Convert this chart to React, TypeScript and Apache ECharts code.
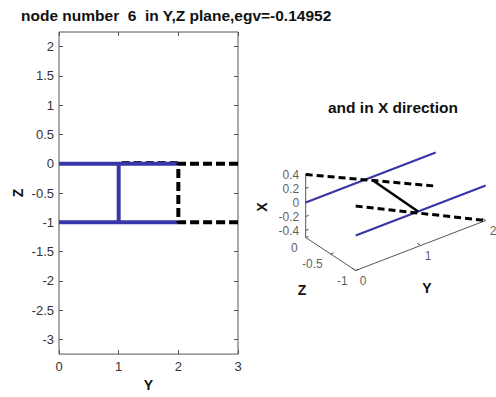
import React, { useEffect, useRef } from "react";
import * as echarts from "echarts";

const FONT = '"Liberation Sans", Arial, Helvetica, sans-serif';
const BLUE = "#3936a8";

// ---- left plot (Y,Z plane) ----
const yTickValues = [0, 1, 2, 3];
const zTickValues = [-3, -2.5, -2, -1.5, -1, -0.5, 0, 0.5, 1, 1.5, 2];
const memberTop: number[][] = [[0, 0], [2, 0]];
const memberBottom: number[][] = [[0, -1], [2, -1]];
const memberVertical: number[][] = [[1, 0], [1, -1]];
const deformedHidden: number[][] = [[1.05, 0.02], [2, 0.02]];
const deformedShape: number[][] = [[3, 0], [2, 0], [2, -1], [3, -1]];

// ---- right plot (3D view), points as [X, Y, Z] ----
const blueLine1: number[][] = [[0, 0, 0], [0, 2, 0]];
const blueLine2: number[][] = [[0, 0, -1], [0, 2, -1]];
const dashedLine1: number[][] = [[0.4, 0, 0], [-0.48, 2, 0]];
const dashedLine2: number[][] = [[0.42, 0, -1], [-0.5, 2, -1]];
const solidLink: number[][] = [[-0.05, 1.03, 0], [0, 0.96, -1]];
const xAxis3D: number[][] = [[-0.5, 0, 0], [0.4, 0, 0]];
const zAxis3D: number[][] = [[-0.5, 0, 0], [-0.5, 0, -1]];
const yAxis3D: number[][] = [[-0.5, 0, -1], [-0.5, 2, -1]];
const xTicks3D = [-0.4, -0.2, 0, 0.2, 0.4];
const yTicks3D = [0, 1, 2];
const zTicks3D = [0, -0.5, -1];

// oblique projection of (X, Y, Z) to the plane
const project = (p: number[]) => [65 * p[1] - 50 * p[2], 25 * p[1] + 33 * p[2] + 70 * p[0]];

export default function App() {
  const ref = useRef<HTMLDivElement>(null);
  useEffect(() => {
    if (!ref.current) return;
    const chart = echarts.init(ref.current, undefined, { renderer: "svg" });

    const axisLineStyle = { color: "#555", width: 1 };
    const labelStyle = { color: "#333", fontSize: 13, fontFamily: FONT };

    const line3D = (pts: number[][], color: string, width: number, type: any = "solid", z = 2) => ({
      type: "line",
      xAxisIndex: 2,
      yAxisIndex: 2,
      data: pts.map(project),
      symbol: "none",
      clip: false,
      z,
      lineStyle: { color, width, type },
    });

    const tickSegs: any[] = [];
    xTicks3D.forEach((x) => tickSegs.push(line3D([[x, 0, 0], [x, 0.045, 0]], "#555", 1)));
    yTicks3D.forEach((y) => tickSegs.push(line3D([[-0.5, y, -1], [-0.5, y, -0.93]], "#555", 1)));
    zTicks3D.forEach((zz) => tickSegs.push(line3D([[-0.5, 0, zz], [-0.5, 0.045, zz]], "#555", 1)));

    const tickLabels = (pts: number[][], names: string[], label: any) => ({
      type: "scatter",
      xAxisIndex: 2,
      yAxisIndex: 2,
      symbolSize: 1,
      clip: false,
      itemStyle: { color: "rgba(0,0,0,0)" },
      data: pts.map((p, i) => ({ value: project(p), name: names[i] })),
      label: {
        show: true,
        formatter: "{b}",
        color: "#333",
        fontSize: 12,
        fontFamily: FONT,
        ...label,
      },
    });

    const tick = { show: true, inside: true, length: 4, lineStyle: axisLineStyle };

    const option: any = {
      animation: false,
      backgroundColor: "#fff",
      grid: [
        { left: 59, top: 32, width: 179, height: 328, show: true, borderColor: "#555", borderWidth: 1, backgroundColor: "transparent" },
        { left: 260, top: 120, width: 236, height: 200 },
      ],
      xAxis: [
        {
          type: "value", gridIndex: 0, min: 0, max: 3, position: "bottom",
          axisLine: { show: false, onZero: false },
          axisTick: { ...tick, customValues: yTickValues },
          axisLabel: { ...labelStyle, margin: 6, customValues: yTickValues },
          splitLine: { show: false },
          name: "Y", nameLocation: "middle", nameGap: 22,
          nameTextStyle: { color: "#111", fontSize: 14, fontWeight: "bold", fontFamily: FONT },
        },
        {
          type: "value", gridIndex: 0, min: 0, max: 3, position: "top",
          axisLine: { show: false, onZero: false },
          axisTick: { ...tick, customValues: yTickValues },
          axisLabel: { show: false },
          splitLine: { show: false },
        },
        { type: "value", gridIndex: 1, min: -45.7, max: 190.3, show: false, splitLine: { show: false } },
      ],
      yAxis: [
        {
          type: "value", gridIndex: 0, min: -3.25, max: 2.25, position: "left",
          axisLine: { show: false, onZero: false },
          axisTick: { ...tick, customValues: zTickValues },
          axisLabel: { ...labelStyle, margin: 5, customValues: zTickValues },
          splitLine: { show: false },
          name: "Z", nameLocation: "middle", nameGap: 34, nameRotate: 90,
          nameTextStyle: { color: "#111", fontSize: 14, fontWeight: "bold", fontFamily: FONT },
        },
        {
          type: "value", gridIndex: 0, min: -3.25, max: 2.25, position: "right",
          axisLine: { show: false, onZero: false },
          axisTick: { ...tick, customValues: zTickValues },
          axisLabel: { show: false },
          splitLine: { show: false },
        },
        { type: "value", gridIndex: 1, min: -117.5, max: 82.5, show: false, splitLine: { show: false } },
      ],
      graphic: [
        {
          type: "text", x: 21, y: 15,
          style: { text: "node number  6  in Y,Z plane,egv=-0.14952", fill: "#111", font: `bold 15.5px ${FONT}`, textVerticalAlign: "middle" },
        },
        {
          type: "text", x: 393, y: 107,
          style: { text: "and in X direction", fill: "#111", font: `bold 15.5px ${FONT}`, textAlign: "center", textVerticalAlign: "middle" },
        },
        {
          type: "text", x: 262, y: 207, rotation: Math.PI / 2,
          style: { text: "X", fill: "#111", font: `bold 14px ${FONT}`, textAlign: "center", textVerticalAlign: "middle" },
        },
        {
          type: "text", x: 302, y: 290,
          style: { text: "Z", fill: "#111", font: `bold 14px ${FONT}`, textAlign: "center", textVerticalAlign: "middle" },
        },
        {
          type: "text", x: 427, y: 288,
          style: { text: "Y", fill: "#111", font: `bold 14px ${FONT}`, textAlign: "center", textVerticalAlign: "middle" },
        },
      ],
      series: [
        { type: "line", data: deformedHidden, symbol: "none", lineStyle: { color: "#222", width: 3, type: [8, 4] }, z: 1 },
        { type: "line", data: memberTop, symbol: "none", lineStyle: { color: BLUE, width: 4 }, z: 2 },
        { type: "line", data: memberBottom, symbol: "none", lineStyle: { color: BLUE, width: 4 }, z: 2 },
        { type: "line", data: memberVertical, symbol: "none", lineStyle: { color: BLUE, width: 4 }, z: 2 },
        { type: "line", data: deformedShape, symbol: "none", lineStyle: { color: "#000", width: 4, type: [9, 4] }, z: 3 },

        line3D(xAxis3D, "#555", 1),
        line3D(zAxis3D, "#555", 1),
        line3D(yAxis3D, "#555", 1),
        ...tickSegs,
        line3D(blueLine1, BLUE, 2.2),
        line3D(blueLine2, BLUE, 2.2),
        line3D(dashedLine1, "#000", 3, [7, 4], 3),
        line3D(dashedLine2, "#000", 3, [7, 4], 3),
        line3D(solidLink, "#000", 2.5, "solid", 3),

        tickLabels(xTicks3D.map((x) => [x, 0, 0]), xTicks3D.map(String), { position: "left", distance: 6 }),
        tickLabels(zTicks3D.map((zz) => [-0.5, 0, zz]), zTicks3D.map(String), { position: "inside", align: "right", verticalAlign: "middle", offset: [-8, 10] }),
        tickLabels(yTicks3D.map((y) => [-0.5, y, -1]), yTicks3D.map(String), { position: "inside", align: "center", verticalAlign: "middle", offset: [7.5, 10] }),
      ],
    };
    chart.setOption(option);
    return () => chart.dispose();
  }, []);
  return <div ref={ref} style={{ position: "fixed", left: 0, top: 0, width: 496, height: 397 }} />;
}
